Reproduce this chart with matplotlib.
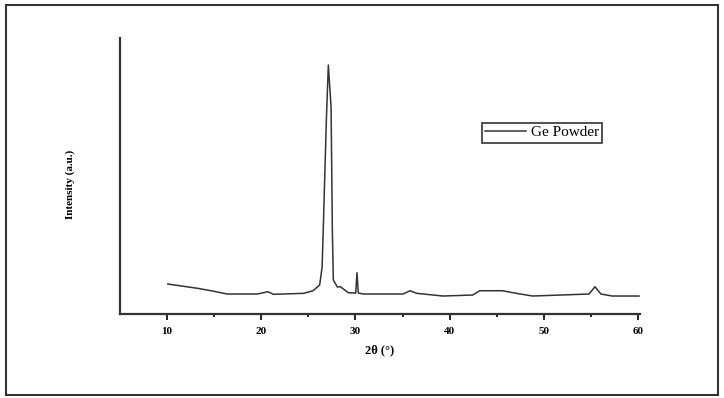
import numpy as np
import matplotlib
matplotlib.use("Agg")
import matplotlib.pyplot as plt
from matplotlib.patches import Rectangle

# XRD pattern (2theta in degrees, intensity in a.u.)
two_theta = [10.07, 13.25, 14.65, 16.4, 19.6, 20.7, 21.3, 24.5, 25.5, 26.2,
             26.46, 26.6, 26.91, 27.12, 27.41, 27.55, 27.65, 28.08, 28.4, 29.24,
             30.03, 30.16, 30.3, 30.82, 32.6, 35.05, 35.8, 36.5, 39.3, 42.45,
             43.2, 45.6, 47.07, 48.8, 54.8, 55.42, 56.06, 57.25, 60.1]
intensity = [30, 25.7, 23.3, 20, 20, 22.3, 19.7, 20.7, 23.3, 29,
             47, 91, 194, 249, 207, 82, 34, 27, 27.3, 21.3,
             21, 41.3, 21, 20, 20, 20, 23.3, 20.7, 18, 19,
             23.3, 23.3, 20.7, 18, 20, 27.3, 20, 18, 18]
xticks = [10, 20, 30, 40, 50, 60]
xtick_labels = ["10", "20", "30", "40", "50", "60"]
series_name = "Ge Powder"

plt.rcParams['font.family'] = ['Liberation Serif', 'DejaVu Serif']

fig = plt.figure(figsize=(7.24, 3.98), dpi=100)
ax = fig.add_axes([0.1657, 0.211, 0.7182, 0.6935])

ax.plot(two_theta, intensity, color='#333333', lw=1.1, label=series_name)

ax.set_xlim(5, 60.2)
ax.set_ylim(0, 276)
ax.set_xticks(xticks)
ax.set_xticklabels(xtick_labels, fontsize=8, fontweight='bold')
ax.set_xticks([15, 25, 35, 45, 55], minor=True)
ax.set_yticks([])
ax.tick_params(axis='x', which='major', direction='out', length=4.5, width=1.2, pad=5)
ax.tick_params(axis='x', which='minor', direction='out', length=2.2, width=1.2)

for s in ['top', 'right']:
    ax.spines[s].set_visible(False)
for s in ['left', 'bottom']:
    ax.spines[s].set_linewidth(1.6)
    ax.spines[s].set_color('#333333')

ax.set_xlabel("2θ (°)", fontsize=9, fontweight='bold', labelpad=6)
ax.set_ylabel("Intensity (a.u.)", fontsize=8, fontweight='bold')
ax.yaxis.set_label_coords(-0.087, 0.47)

leg = ax.legend(loc='upper left', bbox_to_anchor=(0.696, 0.693), fontsize=11,
                frameon=True, fancybox=False, handlelength=2.7, borderpad=0.2,
                handletextpad=0.3, borderaxespad=0)
leg.get_frame().set_edgecolor('black')
leg.get_frame().set_linewidth(1.2)

# outer frame round the whole figure
fig.patches.append(Rectangle((0.008, 0.008), 0.984, 0.98, transform=fig.transFigure,
                             fill=False, edgecolor='#333333', lw=1.5))

fig.savefig("out.png", dpi=100)
